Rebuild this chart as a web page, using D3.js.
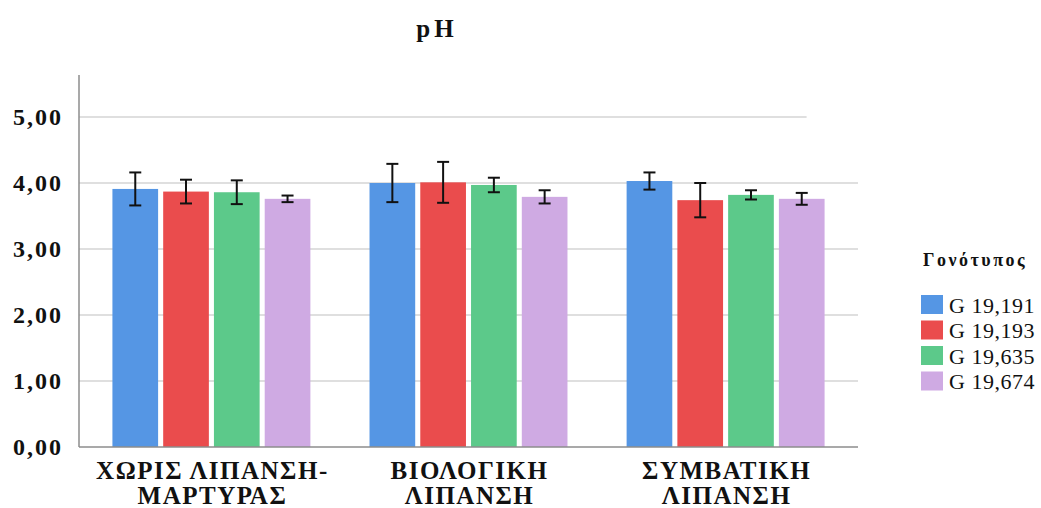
<!DOCTYPE html>
<html>
<head>
<meta charset="utf-8">
<script src="https://cdn.jsdelivr.net/npm/d3@7"></script>
<style>
  body { margin: 0; background: #fff; }
</style>
</head>
<body>
<svg id="chart" width="1041" height="508"></svg>
<script>
const categories = [["ΧΩΡΙΣ ΛΙΠΑΝΣΗ-", "ΜΑΡΤΥΡΑΣ"], ["ΒΙΟΛΟΓΙΚΗ", "ΛΙΠΑΝΣΗ"], ["ΣΥΜΒΑΤΙΚΗ", "ΛΙΠΑΝΣΗ"]]
const genotypes = ["G 19,191", "G 19,193", "G 19,635", "G 19,674"]
const colors = ["#5596e4", "#ea4c4d", "#5cc98a", "#cfaae3"]

// mean pH per genotype, one value for each category
const means = [
    [3.91, 4.00, 4.03],
    [3.87, 4.01, 3.74],
    [3.86, 3.97, 3.82],
    [3.76, 3.79, 3.76]
]
// half length of error bars
const errors = [
    [0.25, 0.29, 0.13],
    [0.18, 0.31, 0.26],
    [0.18, 0.11, 0.07],
    [0.05, 0.10, 0.09]
]
const yTicks = [0, 1, 2, 3, 4, 5]

const FONT = "'Liberation Serif', 'Times New Roman', serif"
const svg = d3.select("#chart")
const plotLeft = 79, plotRight = 858, plotTop = 75, plotBottom = 447

const x0 = d3.scaleBand().domain(d3.range(categories.length)).range([plotLeft, plotRight]).paddingInner(0.23).paddingOuter(0.13)
const x1 = d3.scaleBand().domain(d3.range(genotypes.length)).range([0, x0.bandwidth()]).paddingInner(0.1)
const y = d3.scaleLinear().domain([0, 5]).range([plotBottom, 117])

// gridlines (the top one stops short, as in the picture)
svg.append("g")
    .selectAll("line")
    .data(yTicks.filter(d => d > 0))
    .join("line")
    .attr("x1", plotLeft)
    .attr("x2", d => d === 5 ? plotLeft + (plotRight - plotLeft) * 0.934 : plotRight)
    .attr("y1", d => y(d))
    .attr("y2", d => y(d))
    .attr("stroke", "#d4d4d4")
    .attr("stroke-width", 1.5)

// y axis labels
const yAxis = svg.append("g")
    .attr("transform", `translate(${plotLeft},0)`)
    .call(d3.axisLeft(y).tickValues(yTicks).tickSize(0).tickPadding(16).tickFormat(d => d3.format(".2f")(d).replace(".", ",")))
yAxis.select(".domain").remove()
yAxis.selectAll("text")
    .style("font-family", FONT)
    .style("font-weight", "bold")
    .style("font-size", "24px")
    .style("letter-spacing", "2px")
    .attr("fill", "#111")
    .attr("dy", "0.33em")

// bars
const rows = []
means.forEach((s, si) => s.forEach((v, ci) => rows.push({si, ci, v, e: errors[si][ci]})))

svg.append("g")
    .selectAll("rect")
    .data(rows)
    .join("rect")
    .attr("x", d => x0(d.ci) + x1(d.si))
    .attr("y", d => y(d.v))
    .attr("width", x1.bandwidth())
    .attr("height", d => y(0) - y(d.v))
    .attr("fill", d => colors[d.si])

// error bars
const eb = svg.append("g").attr("stroke", "#111").attr("stroke-width", 2)
rows.forEach(d => {
    const cx = x0(d.ci) + x1(d.si) + x1.bandwidth() / 2
    eb.append("line").attr("x1", cx).attr("x2", cx).attr("y1", y(d.v + d.e)).attr("y2", y(d.v - d.e))
    eb.append("line").attr("x1", cx - 6).attr("x2", cx + 6).attr("y1", y(d.v + d.e)).attr("y2", y(d.v + d.e))
    eb.append("line").attr("x1", cx - 6).attr("x2", cx + 6).attr("y1", y(d.v - d.e)).attr("y2", y(d.v - d.e))
})

// axis lines
svg.append("line").attr("x1", plotLeft).attr("x2", plotLeft).attr("y1", plotTop).attr("y2", plotBottom)
    .attr("stroke", "#8c8c8c").attr("stroke-width", 1.5)
svg.append("line").attr("x1", plotLeft).attr("x2", plotRight).attr("y1", plotBottom).attr("y2", plotBottom)
    .attr("stroke", "#8c8c8c").attr("stroke-width", 1.5)

// category labels
svg.append("g")
    .selectAll("text")
    .data(categories)
    .join("text")
    .attr("text-anchor", "middle")
    .style("font-family", FONT)
    .style("font-weight", "bold")
    .style("font-size", "25px")
    .style("letter-spacing", "1.5px")
    .attr("fill", "#111")
    .attr("transform", (d, i) => `translate(${x0(i) + x0.bandwidth() / 2 + 1},0)`)
    .selectAll("tspan")
    .data(d => d)
    .join("tspan")
    .attr("x", 0)
    .attr("y", (d, i) => 479 + i * 25)
    .text(d => d)

// title
svg.append("text")
    .attr("x", 437).attr("y", 37)
    .attr("text-anchor", "middle")
    .style("font-family", FONT)
    .style("font-weight", "bold")
    .style("font-size", "25px")
    .style("letter-spacing", "4px")
    .attr("fill", "#111")
    .text("pH")

// legend
const lg = svg.append("g").attr("transform", "translate(921,0)")
lg.append("text").attr("x", 2).attr("y", 266)
    .style("font-family", FONT)
    .style("font-weight", "bold")
    .style("font-size", "18px")
    .style("letter-spacing", "2.5px")
    .attr("fill", "#111")
    .text("Γονότυπος")
lg.selectAll("rect")
    .data(genotypes)
    .join("rect")
    .attr("x", 0).attr("y", (d, i) => 295 + i * 25.5)
    .attr("width", 22).attr("height", 19)
    .attr("fill", (d, i) => colors[i])
lg.selectAll("text.item")
    .data(genotypes)
    .join("text")
    .attr("class", "item")
    .attr("x", 28).attr("y", (d, i) => 312.5 + i * 25.5)
    .style("font-family", FONT)
    .style("font-size", "22px")
    .style("letter-spacing", "0.5px")
    .attr("fill", "#111")
    .text(d => d)
</script>
</body>
</html>
